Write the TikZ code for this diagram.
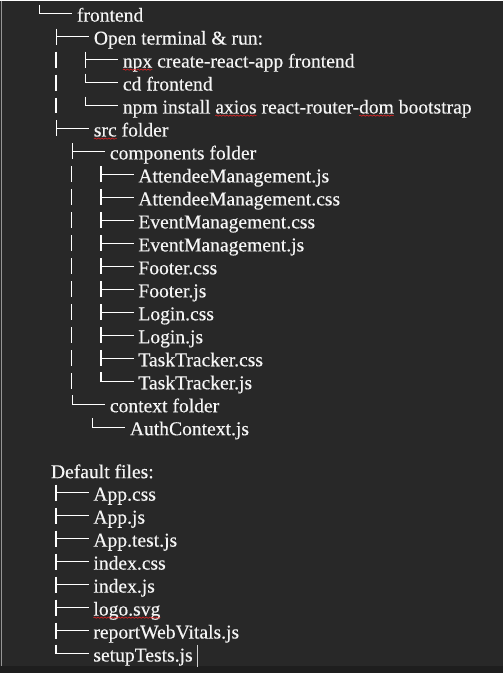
\documentclass[tikz,border=0pt]{standalone}
\usepackage{fontspec}
\setmainfont{Liberation Serif}
\newfontfamily\treefont[FakeBold=0.35]{Liberation Serif}
\usetikzlibrary{calc,decorations.pathmorphing}
\definecolor{bg}{RGB}{40,40,40}
\definecolor{bgb}{RGB}{30,30,30}
\definecolor{edgeline}{RGB}{150,150,150}
\definecolor{fg}{RGB}{245,245,245}
\definecolor{spell}{RGB}{225,35,35}
\newcommand\teeof[1]{%
  \draw[conn] ($(#1.base west)+(-37.5,-16)$) -- ++(0,16);
  \draw[conn] ($(#1.base west)+(-37.5,-8)$) -- ++(33,0);}
\newcommand\elbowof[1]{%
  \draw[conn] ($(#1.base west)+(-37.5,-17)$) |- ($(#1.base west)+(-4.5,-8)$);}
\newcommand\pipeof[1]{%
  \draw[conn] ($(#1.base west)+(-67,-16)$) -- ++(0,16);}
\newcommand\squigof[1]{%
  \draw[squig] ([yshift=-1.6pt]#1.base west) -- ([yshift=-1.6pt]#1.base east);}
\begin{document}
\begin{tikzpicture}[x=0.75pt,y=-0.75pt,
  lbl/.style={anchor=base west, inner sep=0pt, outer sep=0pt, text=fg,
    font=\treefont\fontsize{14.7}{17}\selectfont},
  conn/.style={draw=white, line width=1.05pt},
  squig/.style={draw=spell, line width=0.45pt, decorate,
    decoration={snake, amplitude=0.45pt, segment length=2.6pt}}]
% background
\fill[bg] (0,0) rectangle (503,673);
\fill[bgb] (0,666) rectangle (503,673);
\draw[edgeline, line width=0.9pt] (1.5,0) -- (1.5,666);
\useasboundingbox (0,0) rectangle (503,673);

% rows: baseline = 21 + 23 i
\node[lbl] (frontend) at (77,21) {frontend};
\node[lbl] (open) at (94,44) {Open terminal \& run:};
\node[lbl] (npx) at (123,67) {npx};
\node[lbl] (npxrest) at (npx.base east) {\ create-react-app frontend};
\node[lbl] (cd) at (123,90) {cd frontend};
\node[lbl] (npm) at (123,113) {npm install\ \null};
\node[lbl] (axios) at (npm.base east) {axios};
\node[lbl] (npmb) at (axios.base east) {\ react-router-};
\node[lbl] (dom) at (npmb.base east) {dom};
\node[lbl] (npmc) at (dom.base east) {\ bootstrap};
\node[lbl] (src) at (94,136) {src};
\node[lbl] (srcrest) at (src.base east) {\ folder};
\node[lbl] (components) at (110,159) {components folder};
\node[lbl] (f1) at (138.5,182) {AttendeeManagement.js};
\node[lbl] (f2) at (138.5,205) {AttendeeManagement.css};
\node[lbl] (f3) at (138.5,228) {EventManagement.css};
\node[lbl] (f4) at (138.5,251) {EventManagement.js};
\node[lbl] (f5) at (138.5,274) {Footer.css};
\node[lbl] (f6) at (138.5,297) {Footer.js};
\node[lbl] (f7) at (138.5,320) {Login.css};
\node[lbl] (f8) at (138.5,343) {Login.js};
\node[lbl] (f9) at (138.5,366) {TaskTracker.css};
\node[lbl] (f10) at (138.5,389) {TaskTracker.js};
\node[lbl] (context) at (110,412) {context folder};
\node[lbl] (auth) at (130,435) {AuthContext.js};

\node[lbl] (default) at (51,478) {Default files:};
\node[lbl] (d1) at (93.5,500.5) {App.css};
\node[lbl] (d2) at (93.5,523.5) {App.js};
\node[lbl] (d3) at (93.5,546.5) {App.test.js};
\node[lbl] (d4) at (93.5,569.5) {index.css};
\node[lbl] (d5) at (93.5,592.5) {index.js};
\node[lbl] (d6) at (93.5,615.5) {logo.svg};
\node[lbl] (d7) at (93.5,638.5) {reportWebVitals.js};
\node[lbl] (d8) at (93.5,661.5) {setupTests.js};

% tree connectors
\elbowof{frontend}
\teeof{open}
\teeof{npx} \pipeof{npx}
\elbowof{cd} \pipeof{cd}
\elbowof{npm} \pipeof{npm}
\teeof{src}
\teeof{components}
\foreach \f in {f1,f2,f3,f4,f5,f6,f7,f8,f9} {\teeof{\f} \pipeof{\f}}
\elbowof{f10} \pipeof{f10}
\elbowof{context}
\elbowof{auth}
\foreach \d in {d1,d2,d3,d4,d5,d6,d7} {\teeof{\d}}
\elbowof{d8}

% spell-check underlines
\squigof{npx}
\squigof{axios}
\squigof{dom}
\squigof{src}
\squigof{d6}

% text cursor
\draw[fg!85!black, line width=0.8pt] ($(d8.base east)+(5,-17)$) -- ++(0,22);
\end{tikzpicture}
\end{document}
